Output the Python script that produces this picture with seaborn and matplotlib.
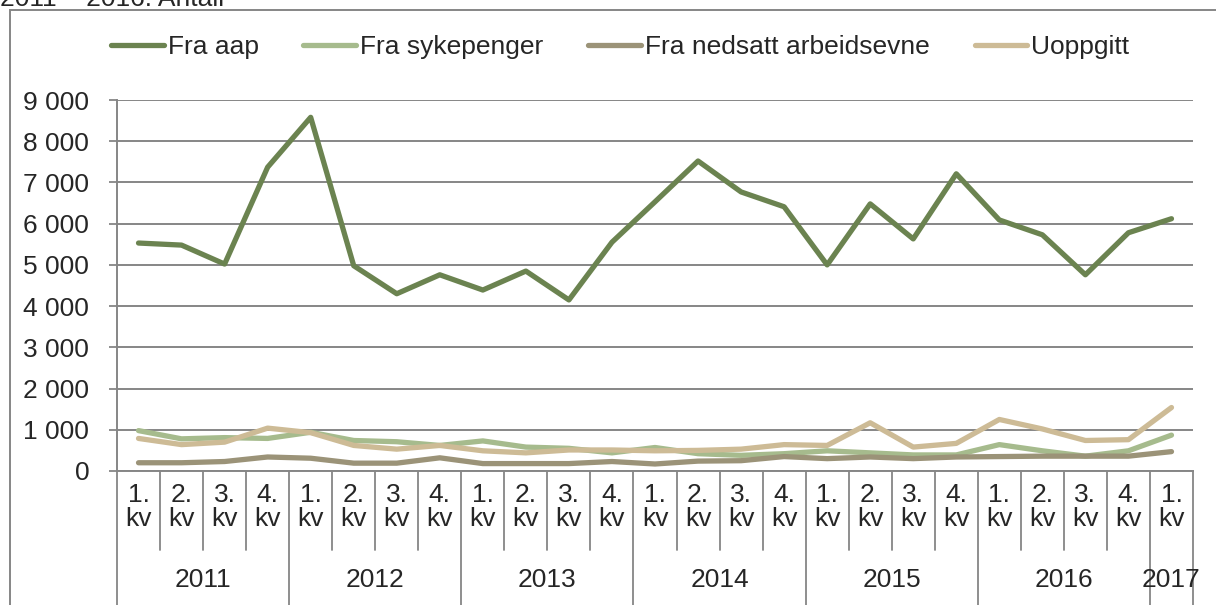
import matplotlib
matplotlib.use("Agg")
import matplotlib.pyplot as plt
import matplotlib.patches as mpatches
import matplotlib.transforms as mtransforms
from matplotlib.ticker import FuncFormatter
import seaborn as sns
import pandas as pd
import numpy as np

# ---------------- data ----------------
years = ["2011", "2012", "2013", "2014", "2015", "2016", "2017"]
year_quarters = [4, 4, 4, 4, 4, 4, 1]
quarter_labels = ["1.\nkv", "2.\nkv", "3.\nkv", "4.\nkv"] * 6 + ["1.\nkv"]

series_names = ["Fra aap", "Fra sykepenger", "Fra nedsatt arbeidsevne", "Uoppgitt"]

fra_aap = [5530, 5480, 5020, 7370, 8580, 4980, 4300, 4760, 4390, 4850, 4150, 5550,
           6530, 7520, 6770, 6410, 5000, 6480, 5630, 7210, 6090, 5730, 4760, 5780, 6120]
fra_sykepenger = [980, 780, 810, 790, 940, 740, 710, 620, 730, 580, 550, 440,
                  570, 420, 380, 420, 490, 440, 390, 390, 640, 490, 360, 490, 870]
fra_nedsatt = [200, 200, 230, 340, 310, 190, 190, 320, 180, 180, 180, 230,
               170, 240, 250, 350, 300, 340, 300, 340, 350, 360, 360, 360, 470]
uoppgitt = [790, 640, 700, 1040, 930, 620, 530, 620, 490, 440, 510, 510,
            490, 500, 530, 640, 620, 1170, 580, 670, 1250, 1020, 740, 760, 1540]

colors = ["#6B8350", "#A6BB8D", "#9B9378", "#CDBB96"]
title_text = "2011 – 2016. Antall"

# ---------------- build frame ----------------
n = len(fra_aap)
df = pd.concat([
    pd.DataFrame({"pos": np.arange(n), "value": vals, "serie": name})
    for name, vals in zip(series_names, [fra_aap, fra_sykepenger, fra_nedsatt, uoppgitt])
])

sns.set_style("white")
plt.rcParams["font.family"] = ["Liberation Sans", "DejaVu Sans"]
FS = 19
GREY = "#868686"
LW = 3.8

W, H = 1216, 605
fig = plt.figure(figsize=(W / 100, H / 100), dpi=100)
ax = fig.add_axes([117 / W, 1 - 471 / H, (1193 - 117) / W, (471 - 100) / H])

sns.lineplot(data=df, x="pos", y="value", hue="serie", hue_order=series_names,
             palette=colors, linewidth=LW, ax=ax, legend=False, sort=False)
for ln in ax.lines:
    ln.set_solid_capstyle("round")
    ln.set_solid_joinstyle("round")

ax.set_xlim(-0.5, n - 0.5)
ax.set_ylim(0, 9000)
ax.set_yticks(np.arange(0, 9001, 1000))
ax.yaxis.set_major_formatter(FuncFormatter(lambda v, p: f"{int(v):,}".replace(",", " ")))
ax.tick_params(axis="y", labelsize=FS, length=6, width=1.3, color=GREY, pad=14, direction="out", left=True)
ax.set_xticks([])
ax.set_xlabel("")
ax.set_ylabel("")
ax.yaxis.grid(True, color=GREY, linewidth=1.4)
ax.set_axisbelow(True)
for s in ["top", "right"]:
    ax.spines[s].set_visible(False)
for s in ["left", "bottom"]:
    ax.spines[s].set_color(GREY)
    ax.spines[s].set_linewidth(1.4)

# ---------------- multi-level category axis ----------------
trans = mtransforms.blended_transform_factory(ax.transData, fig.transFigure)
y_axis = 1 - 471 / H
y_short = 1 - 550 / H
y_long = 1 - 605 / H

year_starts = np.cumsum([0] + year_quarters)
for i in range(n + 1):
    xb = i - 0.5
    is_year = i in year_starts
    ax.add_line(plt.Line2D([xb, xb], [y_axis, y_long if is_year else y_short],
                           transform=trans, color=GREY, linewidth=1.3, clip_on=False))

for i, lab in enumerate(quarter_labels):
    fig.text(0, 0, lab, transform=trans, fontsize=FS, ha="center", va="center",
             linespacing=1.05).set_position((i, 1 - 507 / H))

for y, s, q in zip(years, year_starts[:-1], year_quarters):
    xc = s + (q - 1) / 2
    fig.text(0, 0, y, transform=trans, fontsize=FS, ha="center", va="center").set_position((xc, 1 - 580 / H))

# ---------------- legend ----------------
handles = [plt.Line2D([0], [0], color=c, linewidth=LW, solid_capstyle="round") for c in colors]
fig.legend(handles, series_names, loc="center", bbox_to_anchor=(0.510, 1 - 47 / H),
           ncol=4, frameon=False, fontsize=FS, handlelength=2.0, handletextpad=0.15,
           columnspacing=1.7)

# ---------------- outer frame and clipped title ----------------
fig.patches.append(mpatches.Rectangle((10 / W, -0.1), 1.2, 1.1 - 10 / H, transform=fig.transFigure,
                                      fill=False, edgecolor=GREY, linewidth=1.4))
fig.text(0.0, 1 - 6.5 / H, title_text, fontsize=FS, ha="left", va="baseline")

fig.savefig("out.png", dpi=100)
